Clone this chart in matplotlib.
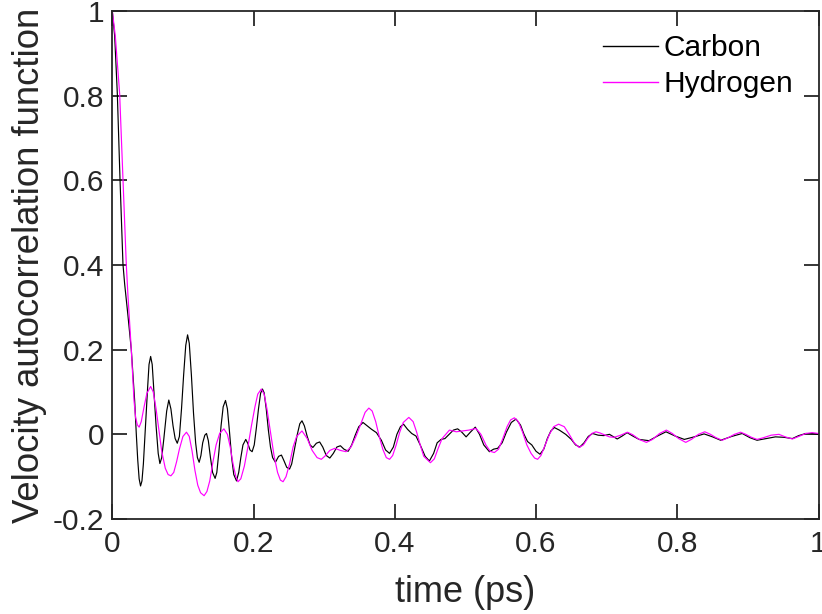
import matplotlib
matplotlib.use("Agg")
import matplotlib.pyplot as plt

carbon_t = [0, 0.0034, 0.0071, 0.0109, 0.0130, 0.0151, 0.0175, 0.0198, 0.0222, 0.0246, 0.0269, 0.0292, 0.0316,
            0.034, 0.036, 0.038, 0.040, 0.042, 0.044, 0.047, 0.050, 0.052, 0.0543, 0.0565, 0.059, 0.062, 0.065,
            0.0674, 0.070, 0.073, 0.077, 0.080, 0.083, 0.086, 0.089, 0.092, 0.095, 0.098, 0.101, 0.104, 0.1066,
            0.109, 0.112, 0.115, 0.118, 0.1205, 0.123, 0.1255, 0.128, 0.131, 0.1334, 0.136, 0.139, 0.142, 0.1456,
            0.148, 0.151, 0.154, 0.157, 0.1603, 0.163, 0.166, 0.169, 0.172, 0.1759, 0.179, 0.182, 0.185, 0.189,
            0.192, 0.195, 0.198, 0.201, 0.204, 0.207, 0.210, 0.2126, 0.215, 0.218, 0.221, 0.224, 0.227, 0.231,
            0.2355, 0.2395, 0.243, 0.247, 0.251, 0.254, 0.258, 0.262, 0.2655, 0.2686, 0.272, 0.276, 0.280, 0.284,
            0.289, 0.2936, 0.298, 0.303, 0.308, 0.313, 0.318, 0.323, 0.328, 0.334, 0.339, 0.344, 0.349, 0.355,
            0.361, 0.367, 0.374, 0.381, 0.387, 0.3926, 0.398, 0.403, 0.408, 0.4124, 0.418, 0.424, 0.430, 0.436,
            0.443, 0.449, 0.455, 0.460, 0.4656, 0.471, 0.477, 0.483, 0.489, 0.495, 0.501, 0.507, 0.514, 0.520,
            0.526, 0.534, 0.540, 0.5457, 0.552, 0.558, 0.565, 0.5717, 0.578, 0.583, 0.588, 0.594, 0.600, 0.6056,
            0.611, 0.616, 0.621, 0.626, 0.633, 0.642, 0.650, 0.656, 0.662, 0.668, 0.674, 0.680, 0.688, 0.696,
            0.704, 0.710, 0.715, 0.722, 0.729, 0.737, 0.746, 0.760, 0.772, 0.784, 0.797, 0.810, 0.824, 0.838,
            0.850, 0.8615, 0.877, 0.892, 0.903, 0.913, 0.926, 0.939, 0.951, 0.963, 0.972, 0.982, 0.991, 1.0]
carbon_v = [1.0, 0.94, 0.805, 0.603, 0.50, 0.402, 0.355, 0.319, 0.28, 0.240, 0.200, 0.14, 0.081,
            0.0, -0.06, -0.105, -0.122, -0.11, -0.07, 0.02, 0.11, 0.165, 0.184, 0.165, 0.1, 0.02, -0.045,
            -0.069, -0.055, -0.01, 0.055, 0.081, 0.06, 0.02, -0.01, -0.021, -0.005, 0.06, 0.14, 0.21, 0.235,
            0.215, 0.14, 0.05, -0.02, -0.055, -0.066, -0.05, -0.02, -0.002, 0.002, -0.015, -0.055, -0.09, -0.104,
            -0.09, -0.04, 0.02, 0.065, 0.080, 0.06, 0.005, -0.055, -0.095, -0.110, -0.09, -0.055, -0.025, -0.012,
            -0.022, -0.037, -0.041, -0.025, 0.015, 0.06, 0.097, 0.107, 0.098, 0.06, 0.01, -0.03, -0.055, -0.066,
            -0.052, -0.049, -0.062, -0.078, -0.082, -0.07, -0.035, 0.0, 0.025, 0.032, 0.02, -0.005, -0.025, -0.031,
            -0.021, -0.018, -0.03, -0.05, -0.056, -0.045, -0.03, -0.027, -0.035, -0.040, -0.025, -0.002, 0.018, 0.028,
            0.02, 0.012, 0.004, -0.014, -0.037, -0.045, -0.03, 0.0, 0.018, 0.024, 0.012, 0.002, -0.004, -0.025,
            -0.052, -0.063, -0.045, -0.02, -0.012, -0.01, 0.0, 0.01, 0.013, 0.005, -0.006, 0.005, 0.017, 0.0,
            -0.025, -0.041, -0.035, -0.033, -0.02, 0.005, 0.028, 0.036, 0.022, 0.0, -0.017, -0.025, -0.04, -0.047,
            -0.035, -0.01, 0.008, 0.016, 0.010, 0.0, -0.012, -0.025, -0.03, -0.02, -0.005, 0.002, -0.002, -0.003,
            0.0, -0.006, -0.011, -0.004, 0.004, -0.004, -0.012, -0.015, -0.004, 0.006, -0.004, -0.012, -0.006, 0.001,
            -0.006, -0.014, -0.005, 0.002, -0.008, -0.014, -0.01, -0.006, -0.007, -0.010, -0.003, 0.002, 0.001, 0.0]

hydrogen_t = [0, 0.0043, 0.0104, 0.0151, 0.0165, 0.0198, 0.0222, 0.0269, 0.0307, 0.033, 0.0355, 0.038, 0.041,
              0.045, 0.049, 0.0543, 0.058, 0.062, 0.066, 0.070, 0.075, 0.079, 0.083, 0.087, 0.091, 0.095, 0.100,
              0.105, 0.109, 0.113, 0.117, 0.121, 0.125, 0.130, 0.134, 0.138, 0.142, 0.147, 0.152, 0.158, 0.163,
              0.167, 0.171, 0.175, 0.178, 0.182, 0.187, 0.192, 0.197, 0.202, 0.206, 0.211, 0.215, 0.219, 0.224,
              0.229, 0.234, 0.238, 0.2418, 0.246, 0.251, 0.256, 0.261, 0.2686, 0.276, 0.283, 0.290, 0.296, 0.302,
              0.308, 0.315, 0.323, 0.331, 0.338, 0.345, 0.352, 0.358, 0.3633, 0.368, 0.373, 0.378, 0.383, 0.388,
              0.3926, 0.397, 0.402, 0.407, 0.412, 0.4199, 0.426, 0.431, 0.436, 0.441, 0.4505, 0.456, 0.461, 0.467,
              0.4774, 0.487, 0.496, 0.505, 0.515, 0.522, 0.529, 0.535, 0.541, 0.547, 0.553, 0.559, 0.564, 0.5693,
              0.575, 0.581, 0.587, 0.593, 0.598, 0.6022, 0.607, 0.613, 0.619, 0.625, 0.632, 0.640, 0.647, 0.654,
              0.661, 0.667, 0.673, 0.679, 0.6848, 0.691, 0.698, 0.704, 0.7107, 0.720, 0.7294, 0.737, 0.746, 0.7563,
              0.765, 0.775, 0.7846, 0.793, 0.802, 0.812, 0.820, 0.830, 0.839, 0.847, 0.855, 0.8637, 0.872, 0.881,
              0.8897, 0.897, 0.905, 0.913, 0.922, 0.933, 0.944, 0.953, 0.963, 0.972, 0.982, 0.991, 1.0]
hydrogen_v = [1.0, 0.94, 0.805, 0.603, 0.544, 0.402, 0.327, 0.200, 0.081, 0.04, 0.022, 0.017, 0.03,
              0.065, 0.097, 0.113, 0.1, 0.06, 0.01, -0.04, -0.08, -0.095, -0.098, -0.09, -0.065, -0.035, -0.005,
              0.005, -0.005, -0.04, -0.085, -0.12, -0.138, -0.145, -0.135, -0.11, -0.07, -0.025, 0.002, 0.013, 0.0,
              -0.03, -0.07, -0.1, -0.112, -0.105, -0.075, -0.03, 0.02, 0.065, 0.095, 0.107, 0.095, 0.06, 0.005,
              -0.05, -0.09, -0.108, -0.112, -0.1, -0.07, -0.03, -0.005, 0.008, -0.01, -0.038, -0.055, -0.059, -0.05,
              -0.038, -0.033, -0.038, -0.041, -0.03, -0.005, 0.025, 0.052, 0.062, 0.055, 0.03, -0.005, -0.035, -0.055,
              -0.059, -0.05, -0.025, 0.005, 0.028, 0.040, 0.03, 0.005, -0.025, -0.052, -0.067, -0.058, -0.035, -0.01,
              0.010, 0.006, 0.008, 0.01, 0.014, 0.0, -0.025, -0.04, -0.043, -0.035, -0.01, 0.018, 0.034, 0.039,
              0.03, 0.005, -0.025, -0.045, -0.056, -0.059, -0.05, -0.025, 0.0, 0.018, 0.024, 0.018, 0.0, -0.02,
              -0.031, -0.025, -0.01, 0.002, 0.006, 0.003, -0.002, -0.006, -0.007, -0.002, 0.005, -0.001, -0.012, -0.019,
              -0.012, 0.002, 0.010, 0.002, -0.01, -0.019, -0.012, 0.0, 0.006, 0.0, -0.008, -0.014, -0.008, 0.0,
              0.005, 0.0, -0.007, -0.012, -0.008, -0.002, 0.0, -0.006, -0.011, -0.005, 0.002, 0.004, 0.002]

x_ticks = [0, 0.2, 0.4, 0.6, 0.8, 1]
x_labels = ["0", "0.2", "0.4", "0.6", "0.8", "1"]
y_ticks = [-0.2, 0, 0.2, 0.4, 0.6, 0.8, 1]
y_labels = ["-0.2", "0", "0.2", "0.4", "0.6", "0.8", "1"]

axc = "#262626"
plt.rcParams['font.family'] = ['Liberation Sans', 'DejaVu Sans']

fig = plt.figure(figsize=(8.22, 6.14), dpi=100)
ax = fig.add_axes([112.3 / 822, 1 - 519 / 614, (818.5 - 112.3) / 822, (519 - 11) / 614])

ax.plot(carbon_t, carbon_v, color="black", lw=0.85, label="Carbon")
ax.plot(hydrogen_t, hydrogen_v, color="#FF00FF", lw=0.85, label="Hydrogen")

ax.set_xlim(0, 1)
ax.set_ylim(-0.2, 1)
ax.set_xticks(x_ticks)
ax.set_xticklabels(x_labels)
ax.set_yticks(y_ticks)
ax.set_yticklabels(y_labels)

for s in ax.spines.values():
    s.set_color(axc)
    s.set_linewidth(1.3)
ax.tick_params(direction="in", length=10.8, width=1.3, color=axc, labelcolor=axc,
               labelsize=21.5, top=True, right=True)
ax.tick_params(axis="y", pad=6)
ax.tick_params(axis="x", pad=8)

ax.set_xlabel("time (ps)", fontsize=26, color=axc, labelpad=12)
ax.set_ylabel("Velocity autocorrelation function", fontsize=26.3, color=axc, labelpad=4)

leg = ax.legend(loc="upper right", bbox_to_anchor=(0.99, 0.99), frameon=False, fontsize=21.5,
                handlelength=1.85, handletextpad=0.2, labelspacing=0.28, borderaxespad=0.2)
for line in leg.get_lines():
    line.set_linewidth(1.0)

fig.savefig("out.png", dpi=100)
